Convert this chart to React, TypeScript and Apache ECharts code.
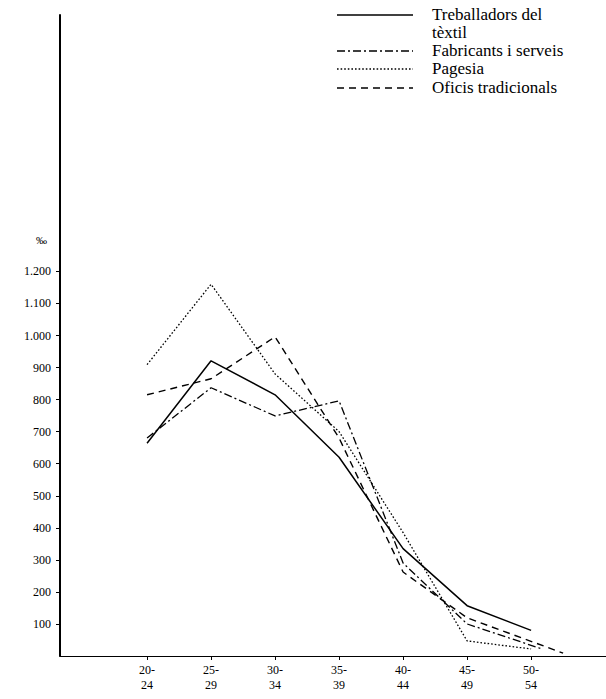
import React, { useEffect, useRef } from 'react';
import * as echarts from 'echarts';

const categories = ['20-24', '25-29', '30-34', '35-39', '40-44', '45-49', '50-54'];
const yTicks = [100, 200, 300, 400, 500, 600, 700, 800, 900, 1000, 1100, 1200];
const seriesNames = ['Treballadors del\ntèxtil', 'Fabricants i serveis', 'Pagesia', 'Oficis tradicionals'];

const treballadors = [664, 921, 815, 620, 335, 157, 80];
const fabricants = [680, 837, 749, 796, 290, 100];
const fabricantsEnd = [6.17, 22];
const pagesia = [909, 1160, 880, 700, 385, 47, 22];
const oficis = [815, 865, 996, 680, 262, 119];
const oficisEnd = [6.5, 9];

const dashes: (number[] | null)[] = [null, [8, 3, 2, 3], [1.6, 2], [7, 5]];
const widths = [1.5, 1.3, 1.3, 1.4];

const FONT = '"Liberation Serif", "DejaVu Serif", serif';

function fmt(v: number): string {
  if (v >= 1000) return `${Math.floor(v / 1000)}.${String(v % 1000).padStart(3, '0')}`;
  return String(v);
}

export default function App() {
  const ref = useRef<HTMLDivElement>(null);
  useEffect(() => {
    document.body.style.margin = '0';
    const chart = echarts.init(ref.current!, null, { renderer: 'svg' });
    const toPts = (arr: number[]) => arr.map((v, i) => [i, v]);
    const data = [
      toPts(treballadors),
      [...toPts(fabricants), fabricantsEnd],
      toPts(pagesia),
      [...toPts(oficis), oficisEnd],
    ];
    const legendRows = [14, 50, 68, 87];
    const graphic: any[] = [];
    seriesNames.forEach((name, i) => {
      const y = legendRows[i] + 1;
      graphic.push({
        type: 'line',
        shape: { x1: 337, y1: y, x2: 413, y2: y },
        style: { stroke: '#000', lineWidth: widths[i], lineDash: dashes[i] || undefined },
        silent: true,
      });
      graphic.push({
        type: 'text',
        x: 432,
        y: legendRows[i] - 8.5,
        style: {
          text: name,
          fontFamily: FONT,
          fontSize: 17,
          lineHeight: 18,
          fill: '#000',
          verticalAlign: 'top',
          align: 'left',
        },
      });
    });
    graphic.push({
      type: 'text',
      x: 36,
      y: 240,
      style: { text: '‰', fontFamily: FONT, fontSize: 11, fill: '#000', verticalAlign: 'middle' },
    });

    chart.setOption({
      animation: false,
      grid: { left: 60, right: 0, top: 15, bottom: 43, containLabel: false, outerBoundsMode: 'none' },
      xAxis: {
        type: 'value',
        min: -1.36,
        max: 7.17,
        splitLine: { show: false },
        axisLine: { show: true, onZero: false, lineStyle: { color: '#000', width: 1.2 } },
        axisTick: { show: true, customValues: categories.map((_, i) => i), length: 4, lineStyle: { color: '#000' } },
        axisLabel: {
          customValues: categories.map((_, i) => i),
          formatter: (v: number) => categories[Math.round(v)].replace('-', '-\n'),
          fontFamily: FONT,
          fontSize: 12,
          lineHeight: 15,
          color: '#000',
          margin: 6,
        },
      },
      yAxis: {
        type: 'value',
        min: 0,
        max: 2000,
        splitLine: { show: false },
        axisLine: { show: true, onZero: false, lineStyle: { color: '#000', width: 2 } },
        axisTick: { show: true, customValues: yTicks, length: 4, lineStyle: { color: '#000' } },
        axisLabel: {
          customValues: yTicks,
          formatter: (v: number) => fmt(v),
          fontFamily: FONT,
          fontSize: 12,
          color: '#000',
          margin: 9,
        },
      },
      graphic,
      series: seriesNames.map((name, i) => ({
        type: 'line',
        name,
        data: data[i],
        symbol: 'none',
        clip: false,
        lineStyle: { color: '#000', width: widths[i], type: dashes[i] || 'solid' },
      })),
    });
    return () => chart.dispose();
  }, []);
  return <div ref={ref} style={{ width: 606, height: 699 }} />;
}
